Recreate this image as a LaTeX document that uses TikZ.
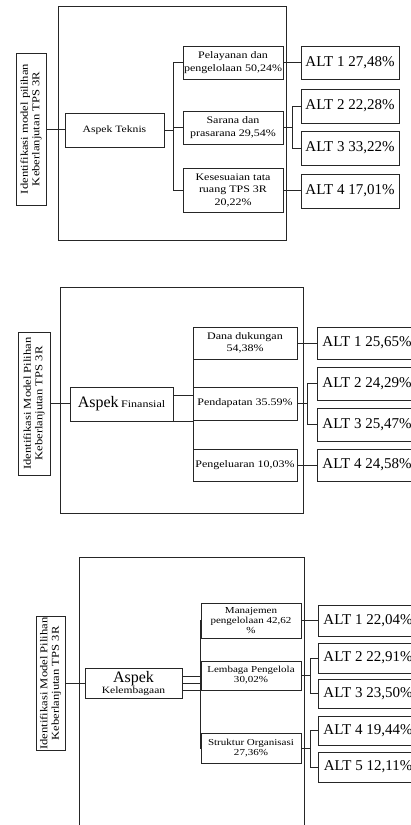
\documentclass[tikz,border=0pt]{standalone}
\usepackage{fontspec}
\setmainfont{Liberation Serif}
\newfontfamily\widefont[FakeStretch=1.2]{Liberation Serif}
\tikzset{
  ln/.style={draw=black!85, line width=0.7pt},
  bx/.style={ln, inner sep=1pt, align=center, minimum width=100pt},
  sub/.style={bx, font=\widefont\fontsize{10}{12.5}\selectfont},
  subs/.style={bx, font=\widefont\fontsize{9.2}{10}\selectfont},
  alt/.style={ln, inner sep=2pt, minimum width=98pt, font=\fontsize{15}{18}\selectfont},
  ttl/.style={ln, rotate=90, inner sep=1pt, align=center, font=\widefont\fontsize{10.5}{11.5}\selectfont},
}
\begin{document}
\begin{tikzpicture}[x=1pt, y=-1pt]
  \useasboundingbox (0,0) rectangle (410,825);
  % Aspek Teknis
  \draw[ln] (58.7,6.7) rectangle (286,240.7);
  \node[ttl, minimum width=152pt, minimum height=30pt] (t1) at (31,129) {Identifikasi model pilihan\\Keberlanjutan TPS 3R};
  \node[bx, minimum width=99pt, minimum height=34pt, font=\widefont\fontsize{9.7}{12}\selectfont] (a1) at (114.5,130) {Aspek Teknis};
  \node[sub, minimum height=33pt] (c11) at (233,62.5) {Pelayanan dan\\pengelolaan 50,24\%};
  \node[sub, minimum height=33pt] (c12) at (233,127.5) {Sarana dan\\prasarana 29,54\%};
  \node[sub, minimum height=44pt] (c13) at (233,190) {Kesesuaian tata\\ruang TPS 3R\\20,22\%};
  \node[alt, minimum height=33pt] (l11) at (350,62.5) {ALT 1 27,48\%};
  \node[alt, minimum height=34pt] (l12) at (350,106) {ALT 2 22,28\%};
  \node[alt, minimum height=34pt] (l13) at (350,148) {ALT 3 33,22\%};
  \node[alt, minimum height=34pt] (l14) at (350,191) {ALT 4 17,01\%};
  \coordinate (b1) at (173,130);
  \coordinate (d1) at (292,127.5);
  \draw[ln] (t1.south) -- (t1.south -| a1.west);
  \draw[ln] (a1.east) -- (b1);
  \foreach \c in {c11,c12,c13} \draw[ln] (b1) |- (\c.west);
  \draw[ln] (c11.east) -- (l11.west);
  \draw[ln] (c12.east) -- (d1);
  \foreach \c in {l12,l13} \draw[ln] (d1) |- (\c.west);
  \draw[ln] (c13.east) -- (c13.east -| l14.west);

  % Aspek Finansial
  \draw[ln] (60,287) rectangle (303,513);
  \node[ttl, minimum width=143pt, minimum height=32pt] (t2) at (34,403.5) {Identifikasi Model Pilihan\\Keberlanjutan TPS 3R};
  \node[bx, minimum width=103pt, minimum height=34pt] (a2) at (121.5,404) {{\fontsize{16}{18}\selectfont Aspek} {\widefont\fontsize{10}{12}\selectfont Finansial}};
  \node[sub, minimum width=104pt, minimum height=32pt] (c21) at (245,343) {Dana dukungan\\54,38\%};
  \node[sub, minimum width=104pt, minimum height=33pt] (c22) at (245,403.5) {Pendapatan 35.59\%};
  \node[sub, minimum width=104pt, minimum height=32pt] (c23) at (245,465) {Pengeluaran 10,03\%};
  \node[alt, minimum width=100pt, minimum height=32pt] (l21) at (367,343) {ALT 1 25,65\%};
  \node[alt, minimum width=100pt, minimum height=33pt] (l22) at (367,383.5) {ALT 2 24,29\%};
  \node[alt, minimum width=100pt, minimum height=33pt] (l23) at (367,424.5) {ALT 3 25,47\%};
  \node[alt, minimum width=100pt, minimum height=32pt] (l24) at (367,465) {ALT 4 24,58\%};
  \coordinate (b2) at (193,395);
  \coordinate (d2) at (307,403.5);
  \draw[ln] (t2.south) -- (t2.south -| a2.west);
  \draw[ln] ([yshift=9pt]a2.east) -- (b2);
  \draw[ln] (a2.south east) -- (a2.south east -| b2);
  \foreach \c in {c21,c22,c23} \draw[ln] (b2) |- (\c.west);
  \draw[ln] (c21.east) -- (l21.west);
  \draw[ln] (c22.east) -- (d2);
  \foreach \c in {l22,l23} \draw[ln] (d2) |- (\c.west);
  \draw[ln] (c23.east) -- (l24.west);

  % Aspek Kelembagaan
  \draw[ln] (79,557) rectangle (304,840);
  \node[ttl, minimum width=131pt, minimum height=29pt] (t3) at (50.5,683.5) {Identifikasi Model Pilihan\\Keberlanjutan TPS 3R};
  \node[bx, minimum width=97pt, minimum height=30pt, inner sep=0pt] (a3) at (133.5,683) {{\fontsize{16}{16}\selectfont Aspek}\\[-1pt]{\widefont\fontsize{9.6}{11}\selectfont Kelembagaan}};
  \node[subs, minimum height=35pt] (c31) at (251,620.5) {Manajemen\\pengelolaan 42,62\\\%};
  \node[subs, minimum height=29pt] (c32) at (251,675.5) {Lembaga Pengelola\\30,02\%};
  \node[subs, minimum height=30pt] (c33) at (251,748) {Struktur Organisasi\\27,36\%};
  \node[alt, minimum width=100pt, minimum height=31pt] (l31) at (368,620.5) {ALT 1 22,04\%};
  \node[alt, minimum width=100pt, minimum height=30pt] (l32) at (368,658) {ALT 2 22,91\%};
  \node[alt, minimum width=100pt, minimum height=29pt] (l33) at (368,693.5) {ALT 3 23,50\%};
  \node[alt, minimum width=100pt, minimum height=29pt] (l34) at (368,730.5) {ALT 4 19,44\%};
  \node[alt, minimum width=100pt, minimum height=30pt] (l35) at (368,767) {ALT 5 12,11\%};
  \coordinate (b3) at (200,683);
  \coordinate (d3) at (310,675.5);
  \coordinate (d4) at (310,748);
  \draw[ln] (t3.south) -- (t3.south -| a3.west);
  \foreach \dy in {-7,0,7} \draw[ln] ([yshift=\dy pt]a3.east) -- ([yshift=\dy pt]a3.east -| b3);
  \foreach \c in {c31,c32,c33} \draw[ln] (b3) |- (\c.west);
  \draw[ln] (c31.east) -- (l31.west);
  \draw[ln] (c32.east) -- (d3);
  \foreach \c in {l32,l33} \draw[ln] (d3) |- (\c.west);
  \draw[ln] (c33.east) -- (d4);
  \foreach \c in {l34,l35} \draw[ln] (d4) |- (\c.west);
\end{tikzpicture}
\end{document}
